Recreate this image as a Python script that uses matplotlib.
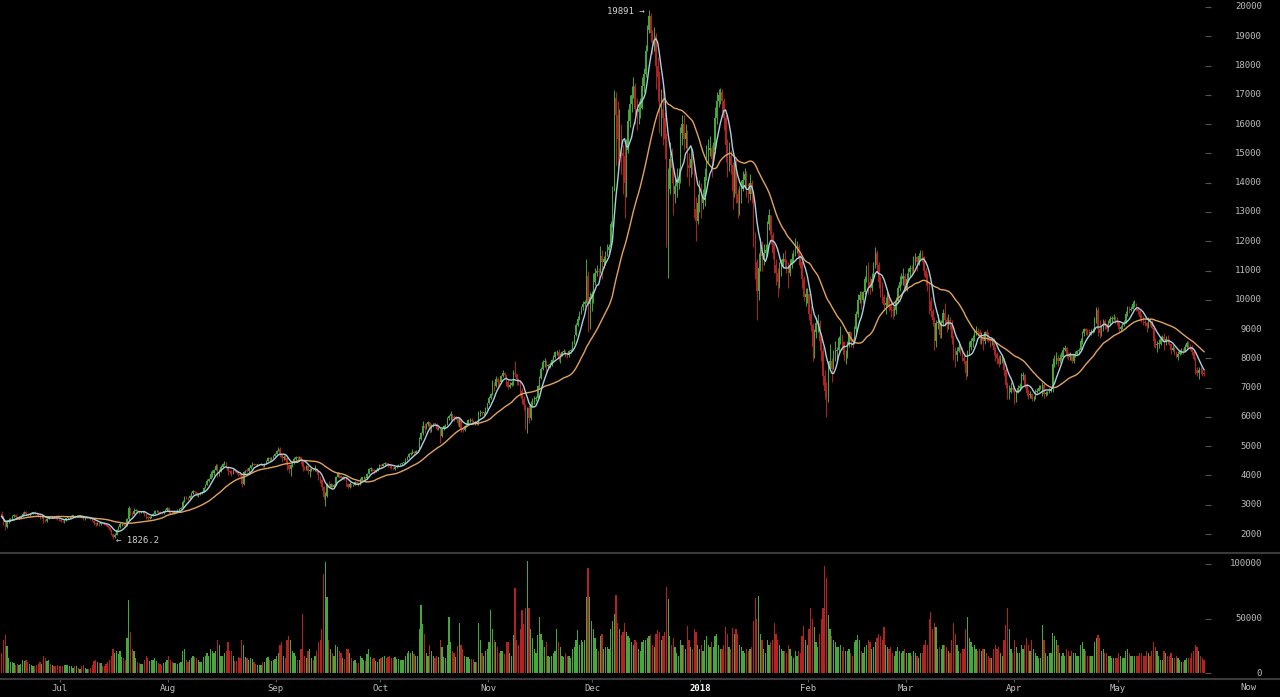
import datetime as dt
import numpy as np
import pandas as pd
import matplotlib
matplotlib.use("Agg")
import matplotlib.pyplot as plt
import matplotlib.dates as mdates
from matplotlib.transforms import offset_copy, blended_transform_factory
from matplotlib.lines import Line2D

# 12h candles, Bitfinex BTC/USD, from 2017-06-14 00:00 UTC
start = dt.datetime(2017, 6, 14)
first_open = 2680

closes = [
    # Jun
    2600, 2440, 2250, 2430, 2480, 2500, 2600, 2650, 2590, 2540, 2580, 2610, 2700, 2760, 2690, 2660, 2700, 2720,
    2740, 2730, 2680, 2620, 2570, 2600, 2480, 2460, 2520, 2600, 2570, 2580, 2560, 2550, 2500, 2490,
    # Jul
    2440, 2430, 2470, 2530, 2570, 2590, 2620, 2630, 2600, 2620, 2610, 2620, 2560, 2520, 2550, 2570, 2550, 2510,
    2460, 2380, 2330, 2360, 2340, 2400, 2380, 2360, 2300, 2230, 2130, 1990, 1900, 1960, 2150, 2230, 2330, 2340,
    2300, 2290, 2500, 2880, 2700, 2680, 2800, 2830, 2770, 2750, 2760, 2770, 2670, 2590, 2540, 2560, 2630, 2690,
    2770, 2800, 2740, 2730, 2710, 2770, 2820, 2880,
    # Aug
    2760, 2740, 2710, 2720, 2780, 2820, 2860, 2900, 3100, 3260, 3230, 3220, 3300, 3390, 3460, 3420, 3350, 3350,
    3400, 3430, 3570, 3670, 3800, 3880, 4050, 4070, 4200, 4330, 4100, 4180, 4300, 4390, 4450, 4290, 4150, 4120,
    4080, 4190, 4150, 4090, 4020, 4010, 3700, 4110, 4160, 4150, 4250, 4350, 4400, 4370, 4360, 4360, 4380, 4390,
    4330, 4390, 4500, 4590, 4560, 4590, 4680, 4740,
    # Sep
    4850, 4920, 4700, 4580, 4620, 4600, 4350, 4230, 4350, 4420, 4570, 4630, 4600, 4620, 4480, 4280, 4260, 4310,
    4150, 4190, 4230, 4190, 4230, 4120, 3950, 3850, 3600, 3250, 3300, 3660, 3620, 3700, 3610, 3690, 3950, 4100,
    3980, 3900, 3950, 3900, 3700, 3620, 3700, 3640, 3690, 3790, 3740, 3680, 3860, 3930, 3940, 3900, 4060, 4220,
    4230, 4200, 4140, 4170, 4240, 4360,
    # Oct
    4330, 4400, 4420, 4410, 4350, 4310, 4270, 4220, 4290, 4330, 4370, 4380, 4420, 4450, 4550, 4620, 4720, 4780,
    4800, 4780, 4820, 4840, 5250, 5450, 5700, 5630, 5750, 5830, 5600, 5700, 5760, 5750, 5600, 5600, 5350, 5580,
    5680, 5720, 5950, 6020, 6100, 6010, 5950, 6000, 5800, 5920, 5600, 5550, 5700, 5740, 5880, 5900, 5850, 5780,
    5800, 5760, 6100, 6170, 6130, 6140, 6300, 6460,
    # Nov
    6650, 6770, 7100, 7050, 7300, 7200, 7180, 7400, 7500, 7420, 7200, 7020, 7100, 7150, 7500, 7460, 7300, 7150,
    6900, 6600, 6400, 6100, 6300, 5950, 6450, 6570, 6600, 6640, 7050, 7330, 7650, 7880, 7900, 7730, 7760, 7800,
    7950, 8050, 8200, 8230, 8000, 8100, 8200, 8260, 8150, 8100, 8250, 8250, 8550, 8780, 9150, 9330, 9550, 9750,
    9850, 9920, 10800, 9850, 10100, 10200,
    # Dec
    10600, 10900, 11000, 10950, 11500, 11300, 11400, 11600, 11700, 11800, 12600, 13700, 16900, 16300, 15500, 15900,
    15000, 14900, 14000, 15100, 16100, 16700, 17000, 17300, 16500, 16400, 16500, 16550, 17300, 17700, 18500, 19200,
    19700, 19100, 18900, 19000, 18000, 17600, 16500, 16500, 16200, 15500, 13500, 13800, 14800, 14500, 13600, 13900,
    14000, 14100, 15700, 16000, 15500, 15700, 14600, 14500, 14800, 14600, 13100, 12700, 13300, 13900,
    # Jan
    13300, 13500, 14200, 14900, 15100, 15200, 14800, 15100, 16200, 16800, 17000, 17100, 16800, 16200, 15300, 14900,
    14900, 14600, 13700, 14700, 13600, 13300, 13500, 13800, 14100, 14300, 13800, 13600, 14000, 13600, 12200, 11300,
    10300, 11100, 11700, 11500, 11600, 11700, 12600, 12900, 12200, 11600, 11200, 10900, 10600, 11000, 11200, 11400,
    11300, 11200, 10900, 11200, 11400, 11500, 11800, 11800, 11400, 11300, 10700, 10100, 10200, 10200,
    # Feb
    9500, 9150, 8400, 8900, 9200, 9200, 8600, 8250, 7400, 6900, 6700, 7700, 7900, 7650, 8100, 8250, 8300, 8700,
    8800, 8550, 8100, 8100, 8500, 8900, 8600, 8550, 9000, 9500, 10000, 10150, 10000, 10250, 10700, 11100, 10600, 10400,
    10700, 11150, 11600, 11200, 10600, 10450, 10100, 9830, 9900, 10150, 9800, 9650, 9600, 9650, 9950, 10400,
    10600, 10700, 10800, 10350,
    # Mar
    10700, 10950, 11100, 11050, 11400, 11450, 11300, 11500, 11600, 11450, 11000, 10750, 10500, 9950, 9600, 9300,
    8600, 9200, 9200, 8800, 9200, 9550, 9300, 9150, 9300, 9150, 8700, 8200, 8100, 8250, 8400, 8300, 8000, 7900,
    7500, 8200, 8400, 8600, 8700, 8900, 8950, 8900, 8700, 8700, 8600, 8900, 8800, 8650, 8600, 8600, 8300, 8150,
    8000, 7800, 7950, 7950, 7600, 7100, 6800, 6850, 7000, 6930,
    # Apr
    6600, 6820, 7000, 7050, 7400, 7420, 7100, 6800, 6750, 6780, 6600, 6620, 6850, 6900, 7000, 7020, 7100, 6770,
    6800, 6840, 6900, 6940, 7800, 7900, 8000, 7900, 8000, 8050, 8300, 8360, 8100, 8060, 8100, 7900, 8100, 8160,
    8250, 8290, 8600, 8850, 9000, 8920, 8900, 8810, 8900, 8940, 9300, 9650, 9000, 8870, 9000, 9280, 9100, 8990,
    9200, 9350, 9350, 9390, 9300, 9240,
    # May
    9000, 9070, 9150, 9220, 9500, 9740, 9650, 9700, 9850, 9860, 9700, 9620, 9400, 9370, 9250, 9190, 9100, 9330,
    9250, 9040, 8600, 8440, 8500, 8500, 8650, 8720, 8550, 8670, 8600, 8480, 8300, 8340, 8200, 8060, 8150, 8240,
    8250, 8240, 8400, 8540, 8450, 8400, 8200, 7990, 7600, 7510, 7600, 7590, 7500, 7480,
]

highs = [
    # Jun
    2790, 2640, 2480, 2480, 2530, 2560, 2650, 2690, 2680, 2610, 2610, 2640, 2740, 2790, 2790, 2720, 2730, 2750,
    2760, 2770, 2740, 2690, 2640, 2640, 2610, 2510, 2540, 2630, 2620, 2610, 2600, 2580, 2560, 2530,
    # Jul
    2510, 2470, 2490, 2560, 2590, 2620, 2650, 2660, 2640, 2650, 2640, 2640, 2630, 2580, 2570, 2590, 2580, 2560,
    2520, 2470, 2400, 2420, 2380, 2420, 2420, 2400, 2370, 2310, 2240, 2140, 2000, 2050, 2180, 2280, 2400, 2390,
    2380, 2340, 2560, 2950, 2900, 2760, 2880, 2870, 2840, 2790, 2790, 2800, 2780, 2680, 2620, 2600, 2660, 2720,
    2830, 2830, 2810, 2770, 2750, 2790, 2860, 2920,
    # Aug
    2920, 2790, 2770, 2760, 2800, 2840, 2890, 2920, 3150, 3300, 3290, 3260, 3320, 3420, 3490, 3480, 3440, 3390,
    3430, 3460, 3600, 3720, 3870, 3920, 4150, 4190, 4230, 4380, 4390, 4220, 4340, 4420, 4480, 4470, 4320, 4200,
    4170, 4210, 4200, 4160, 4110, 4060, 4030, 4140, 4190, 4250, 4280, 4370, 4450, 4420, 4390, 4390, 4400, 4420,
    4400, 4410, 4530, 4640, 4630, 4620, 4710, 4780,
    # Sep
    4880, 4980, 4960, 4720, 4700, 4700, 4620, 4380, 4400, 4480, 4620, 4680, 4670, 4680, 4640, 4500, 4320, 4340,
    4310, 4240, 4270, 4260, 4350, 4260, 4140, 3980, 3880, 3630, 3430, 3750, 3800, 3740, 3720, 3720, 3980, 4130,
    4110, 4010, 3990, 3970, 3920, 3730, 3760, 3720, 3720, 3820, 3800, 3760, 3900, 3960, 3990, 3960, 4090, 4250,
    4280, 4260, 4230, 4210, 4270, 4390,
    # Oct
    4380, 4420, 4470, 4450, 4430, 4380, 4330, 4290, 4320, 4360, 4400, 4420, 4440, 4470, 4580, 4650, 4760, 4810,
    4900, 4840, 4860, 4880, 5300, 5490, 5860, 5780, 5800, 5860, 5840, 5760, 5800, 5800, 5780, 5650, 5610, 5620,
    5720, 5760, 6000, 6070, 6200, 6110, 6050, 6040, 6030, 5950, 5930, 5650, 5730, 5800, 5930, 5950, 5950, 5880,
    5850, 5830, 6200, 6250, 6200, 6180, 6350, 6480,
    # Nov
    6700, 6800, 7250, 7200, 7380, 7350, 7260, 7430, 7590, 7530, 7440, 7250, 7200, 7230, 7600, 7900, 7480, 7320,
    7250, 7000, 6700, 6450, 6350, 6400, 6550, 6650, 6700, 6720, 7100, 7380, 7700, 7950, 8000, 7950, 7820, 7860,
    7990, 8100, 8250, 8280, 8330, 8170, 8250, 8320, 8280, 8200, 8300, 8320, 8600, 8800, 9200, 9450, 9600, 9800,
    9950, 10000, 11400, 11000, 10250, 10300,
    # Dec
    10900, 11100, 11200, 11100, 11850, 11700, 11500, 11650, 11900, 11900, 12700, 13900, 17160, 17100, 16800, 16500,
    16000, 15300, 15300, 15500, 16500, 17000, 17300, 17600, 17400, 16900, 16800, 16900, 17600, 17900, 18700, 19400,
    19891, 19800, 19200, 19300, 19100, 18300, 17800, 17200, 17300, 16400, 15700, 14500, 15400, 15200, 14600, 14200,
    14500, 14500, 15900, 16300, 16300, 16000, 15800, 15000, 15200, 15100, 14700, 13500, 13600, 14100,
    # Jan
    14000, 13800, 14500, 15300, 15500, 15600, 15300, 15400, 16600, 17100, 17200, 17250, 17200, 16900, 16300, 15500,
    15400, 15100, 14700, 14800, 14800, 13800, 13900, 14100, 14400, 14500, 14400, 14000, 14300, 14100, 13700, 12300,
    11400, 11600, 12100, 12000, 11900, 11900, 12700, 13100, 12900, 12300, 11900, 11400, 11100, 11300, 11400, 11600,
    11700, 11400, 11300, 11400, 11600, 11700, 12100, 12000, 11900, 11500, 11300, 10800, 10400, 10400,
    # Feb
    10200, 9800, 9200, 9000, 9400, 9500, 9300, 8700, 8400, 7600, 7200, 7900, 8500, 8000, 8300, 8600, 8400, 8750,
    9100, 8800, 8600, 8300, 8600, 8950, 8900, 8700, 9100, 9600, 10200, 10300, 10300, 10300, 10800, 11200, 11300, 10800,
    10900, 11300, 11800, 11700, 11300, 10800, 10600, 10200, 10100, 10300, 10200, 9900, 9800, 9800, 10100, 10500,
    10800, 10900, 11100, 10900,
    # Mar
    10900, 11100, 11200, 11200, 11500, 11600, 11500, 11600, 11700, 11700, 11500, 11100, 10900, 10600, 10100, 9700,
    9400, 9300, 9500, 9300, 9300, 9700, 9900, 9400, 9500, 9400, 9300, 8800, 8400, 8400, 8600, 8500, 8400, 8100,
    7950, 8300, 8600, 8700, 8800, 9000, 9100, 9050, 9000, 8900, 8800, 8950, 9000, 8900, 8700, 8700, 8700, 8400,
    8200, 8100, 8100, 8100, 8000, 7700, 7200, 7100, 7200, 7100,
    # Apr
    7000, 6900, 7100, 7150, 7500, 7520, 7450, 7150, 6950, 6900, 6800, 6700, 6950, 7000, 7100, 7100, 7200, 7150,
    6900, 6900, 6980, 7000, 8000, 8100, 8200, 8100, 8150, 8200, 8400, 8450, 8400, 8200, 8200, 8150, 8150, 8250,
    8300, 8350, 8700, 8950, 9050, 9050, 9000, 9000, 9000, 9050, 9400, 9750, 9750, 9300, 9100, 9350, 9350, 9200,
    9300, 9450, 9450, 9500, 9450, 9400,
    # May
    9250, 9150, 9200, 9300, 9600, 9800, 9800, 9800, 9950, 9990, 9900, 9750, 9650, 9500, 9450, 9350, 9250, 9400,
    9400, 9300, 9050, 8700, 8600, 8650, 8750, 8800, 8850, 8750, 8800, 8650, 8500, 8450, 8400, 8250, 8250, 8300,
    8350, 8350, 8500, 8600, 8600, 8500, 8450, 8250, 8050, 7700, 7700, 7700, 7650, 7600,
]

lows = [
    # Jun
    2560, 2300, 2120, 2200, 2380, 2440, 2490, 2570, 2560, 2500, 2520, 2560, 2600, 2690, 2650, 2620, 2630, 2680,
    2690, 2700, 2640, 2590, 2520, 2540, 2380, 2400, 2420, 2500, 2530, 2540, 2530, 2520, 2480, 2460,
    # Jul
    2410, 2400, 2380, 2450, 2520, 2550, 2580, 2600, 2560, 2580, 2590, 2590, 2540, 2490, 2490, 2530, 2530, 2490,
    2430, 2320, 2280, 2300, 2280, 2320, 2350, 2320, 2260, 2200, 2100, 1960, 1826.2, 1880, 1950, 2120, 2200, 2280,
    2260, 2250, 2270, 2480, 2640, 2620, 2670, 2770, 2720, 2700, 2720, 2730, 2620, 2520, 2470, 2510, 2540, 2610,
    2680, 2740, 2710, 2700, 2680, 2690, 2750, 2800,
    # Aug
    2700, 2690, 2670, 2670, 2710, 2760, 2800, 2840, 2890, 3080, 3180, 3170, 3200, 3280, 3370, 3350, 3300, 3280,
    3340, 3380, 3420, 3560, 3660, 3780, 3870, 3960, 4030, 4180, 3950, 3990, 4130, 4280, 4350, 4250, 4000, 4050,
    3970, 4060, 4110, 4060, 3980, 3970, 3600, 3690, 4080, 4120, 4130, 4230, 4330, 4340, 4320, 4330, 4340, 4360,
    4280, 4300, 4380, 4480, 4500, 4530, 4580, 4660,
    # Sep
    4730, 4820, 4620, 4450, 4520, 4540, 4200, 4100, 3970, 4300, 4400, 4540, 4540, 4570, 4400, 4140, 4180, 4200,
    4060, 3960, 4150, 4140, 4150, 4050, 3850, 3750, 3500, 3200, 2970, 3270, 3560, 3600, 3560, 3580, 3680, 3930,
    3900, 3850, 3880, 3860, 3650, 3580, 3560, 3600, 3630, 3680, 3700, 3650, 3670, 3850, 3890, 3870, 3890, 4040,
    4160, 4150, 4050, 4110, 4150, 4230,
    # Oct
    4300, 4310, 4370, 4370, 4300, 4250, 4220, 4190, 4200, 4270, 4310, 4340, 4360, 4400, 4440, 4530, 4600, 4690,
    4730, 4700, 4750, 4790, 4830, 5200, 5380, 5450, 5600, 5700, 5450, 5500, 5650, 5700, 5560, 5540, 5120, 5320,
    5560, 5650, 5710, 5900, 5900, 5910, 5860, 5920, 5700, 5640, 5480, 5470, 5520, 5650, 5720, 5830, 5800, 5720,
    5720, 5720, 5740, 6040, 6050, 6050, 6130, 6280,
    # Nov
    6450, 6600, 6760, 6900, 7030, 7050, 7080, 7150, 7350, 7340, 7050, 6960, 7000, 7050, 7100, 7350, 7100, 7080,
    6700, 6450, 6250, 5600, 5450, 5800, 5900, 6350, 6450, 6540, 6630, 7000, 7300, 7600, 7700, 7550, 7620, 7680,
    7750, 7900, 8020, 8100, 7900, 7850, 8080, 8180, 8050, 8000, 8050, 8180, 8240, 8500, 8770, 9100, 9300, 9500,
    9650, 9800, 9900, 8900, 9000, 9600,
    # Dec
    9900, 10500, 10800, 10700, 10900, 10700, 11100, 11200, 11500, 11600, 11800, 12500, 13700, 14600, 14500, 14900,
    14300, 13600, 12800, 13500, 15000, 15900, 16400, 16900, 16000, 15800, 16000, 16200, 16500, 17100, 17600, 18500,
    19100, 18800, 18400, 18500, 17200, 16800, 15700, 15600, 15300, 14800, 11800, 10750, 13600, 14000, 12900, 13300,
    13500, 13800, 14000, 15300, 15100, 15200, 14200, 13900, 14200, 14300, 12800, 12000, 12600, 13000,
    # Jan
    12800, 13100, 13200, 14100, 14700, 14900, 14200, 14600, 15000, 16000, 16600, 16700, 16400, 15800, 14700, 14200,
    14400, 14300, 13100, 13500, 13300, 12800, 12900, 13300, 13700, 13900, 13500, 13300, 13400, 13300, 11800, 10700,
    9300, 10000, 11000, 11000, 11200, 11400, 11600, 12400, 11900, 11400, 10900, 10500, 10100, 10400, 10800, 11100,
    11100, 10900, 10400, 10800, 11100, 11300, 11500, 11600, 11200, 11100, 10400, 9950, 9800, 9900,
    # Feb
    9300, 8950, 7900, 8000, 8700, 8900, 8300, 7900, 7100, 6600, 6000, 6500, 7600, 7200, 7700, 7900, 7900, 8200,
    8500, 8300, 7900, 7800, 8000, 8400, 8400, 8350, 8500, 8900, 9400, 9900, 9700, 9900, 10200, 10600, 10200, 10200,
    10300, 10600, 11100, 10900, 10400, 10100, 9900, 9650, 9500, 9800, 9600, 9400, 9350, 9450, 9500, 9900,
    10300, 10500, 10500, 10300,
    # Mar
    10300, 10600, 10800, 10900, 11000, 11200, 11000, 11200, 11400, 11300, 10800, 10500, 10300, 9500, 9400, 9100,
    8300, 8400, 9000, 8700, 8700, 9100, 9100, 8900, 9000, 9000, 8500, 7950, 7700, 7900, 8200, 8100, 7900, 7800,
    7300, 7400, 8100, 8300, 8400, 8600, 8800, 8750, 8500, 8500, 8300, 8500, 8600, 8550, 8400, 8450, 8100, 7900,
    7800, 7700, 7800, 7850, 7400, 7000, 6600, 6600, 6800, 6850,
    # Apr
    6450, 6500, 6800, 6900, 7000, 7250, 7000, 6700, 6600, 6650, 6550, 6550, 6600, 6800, 6880, 6950, 6700, 6650,
    6700, 6750, 6800, 6850, 6850, 7700, 7800, 7750, 7850, 7950, 8050, 8250, 8000, 7950, 7950, 7850, 7850, 8050,
    8100, 8150, 8250, 8500, 8750, 8800, 8800, 8750, 8800, 8850, 8900, 9200, 8750, 8700, 8750, 8950, 9000, 8900,
    8950, 9150, 9250, 9300, 9200, 9150,
    # May
    8900, 8950, 9000, 9100, 9200, 9450, 9550, 9600, 9700, 9750, 9600, 9500, 9300, 9250, 9150, 9100, 8900, 9050,
    9100, 9000, 8400, 8350, 8200, 8350, 8450, 8600, 8300, 8450, 8500, 8450, 8150, 8250, 8100, 8000, 7950, 8100,
    8150, 8150, 8200, 8350, 8350, 8300, 8100, 7950, 7450, 7400, 7300, 7450, 7400, 7380,
]

# volume per 12h candle, thousands of BTC
vol_k = [
    # Jun
    18, 30, 35, 25, 14, 10, 10, 9, 7, 8, 7, 8, 12, 11, 12, 10, 8, 7, 6, 6, 7, 8, 10, 8, 16, 14, 11, 12, 8, 7, 6, 6, 7, 6,
    # Jul
    6, 6, 7, 7, 7, 6, 6, 5, 6, 6, 5, 4, 6, 7, 5, 4, 4, 5, 7, 11, 12, 10, 9, 9, 6, 6, 8, 10, 12, 16, 22, 18,
    20, 17, 20, 15, 14, 12, 32, 67, 38, 22, 20, 14, 10, 9, 8, 8, 12, 16, 14, 11, 12, 12, 14, 11, 9, 8, 7, 9, 10, 12,
    # Aug
    16, 12, 10, 9, 9, 8, 9, 10, 20, 22, 12, 10, 12, 14, 16, 15, 14, 12, 10, 10, 15, 16, 18, 16, 22, 20, 18, 20,
    30, 26, 16, 16, 18, 20, 28, 20, 20, 16, 11, 11, 15, 14, 30, 26, 15, 14, 12, 14, 13, 10, 8, 7, 7, 7, 10, 10,
    14, 15, 12, 11, 12, 13,
    # Sep
    16, 18, 26, 28, 16, 14, 30, 34, 30, 20, 18, 16, 12, 12, 22, 54, 16, 14, 20, 22, 14, 12, 16, 20, 28, 30,
    40, 91, 102, 70, 30, 22, 18, 16, 26, 24, 20, 18, 14, 13, 22, 22, 18, 14, 11, 12, 9, 9, 16, 14, 12, 11,
    17, 22, 15, 13, 14, 11, 10, 13,
    # Oct
    14, 15, 16, 14, 15, 16, 14, 14, 15, 13, 13, 12, 12, 12, 16, 18, 20, 18, 20, 17, 16, 16, 40, 62, 45, 36,
    18, 16, 26, 20, 16, 14, 16, 15, 30, 24, 15, 14, 26, 51, 28, 20, 18, 15, 25, 46, 26, 22, 16, 15, 15, 13,
    13, 13, 10, 10, 46, 30, 18, 16, 20, 22,
    # Nov
    28, 58, 40, 30, 28, 24, 18, 20, 20, 17, 28, 28, 18, 16, 35, 78, 30, 26, 40, 58, 45, 60, 103, 60, 40, 32,
    22, 18, 35, 51, 36, 30, 24, 28, 16, 15, 16, 18, 20, 40, 28, 24, 16, 15, 18, 16, 16, 14, 22, 24, 30, 39,
    26, 30, 28, 30, 70, 96, 70, 48,
    # Dec
    40, 32, 22, 20, 34, 36, 22, 24, 24, 22, 40, 48, 54, 72, 46, 40, 35, 38, 46, 38, 34, 32, 28, 26, 30, 28,
    22, 20, 28, 30, 30, 32, 34, 35, 26, 24, 36, 39, 38, 30, 34, 38, 79, 68, 34, 26, 32, 24, 18, 16, 30, 26,
    26, 22, 43, 30, 24, 22, 40, 38, 26, 22,
    # Jan
    26, 20, 30, 34, 26, 24, 28, 24, 34, 36, 26, 22, 22, 26, 42, 36, 24, 22, 41, 36, 40, 36, 26, 24, 20, 18,
    22, 20, 22, 24, 48, 69, 50, 71, 36, 30, 22, 18, 30, 26, 28, 30, 46, 36, 30, 26, 22, 20, 20, 18, 26, 22,
    16, 14, 20, 16, 20, 18, 34, 43, 30, 26,
    # Feb
    40, 60, 50, 42, 28, 24, 36, 50, 60, 98, 87, 53, 40, 34, 30, 28, 24, 24, 26, 20, 24, 20, 20, 22, 18, 16,
    28, 30, 35, 30, 20, 18, 24, 26, 30, 28, 22, 24, 28, 32, 36, 34, 30, 42, 26, 24, 22, 24, 18, 16, 20, 24,
    20, 18, 20, 22,
    # Mar
    18, 18, 18, 16, 20, 18, 16, 14, 18, 18, 26, 30, 26, 50, 56, 40, 46, 42, 22, 24, 22, 26, 26, 24, 20, 18,
    30, 46, 36, 26, 20, 18, 22, 22, 40, 51, 32, 28, 24, 26, 22, 20, 22, 20, 22, 22, 18, 16, 14, 14, 22, 26,
    22, 24, 18, 16, 30, 44, 60, 40, 22, 18,
    # Apr
    30, 24, 18, 18, 26, 22, 26, 32, 26, 20, 30, 22, 18, 16, 14, 14, 44, 30, 18, 16, 18, 18, 37, 34, 30, 26,
    18, 16, 18, 16, 22, 20, 16, 20, 18, 18, 16, 16, 26, 28, 22, 20, 16, 16, 16, 16, 28, 32, 35, 32, 20, 22,
    18, 18, 16, 16, 14, 14, 14, 14,
    # May
    18, 16, 14, 14, 20, 22, 18, 16, 16, 16, 16, 16, 18, 18, 16, 16, 20, 18, 16, 20, 28, 24, 20, 16, 12, 12,
    20, 18, 16, 16, 18, 14, 14, 16, 14, 12, 10, 10, 12, 14, 14, 14, 18, 20, 26, 24, 20, 16, 14, 12,
]

month_labels = ["Jul", "Aug", "Sep", "Oct", "Nov", "Dec", "2018", "Feb", "Mar", "Apr", "May"]
price_ticks = list(range(2000, 20001, 1000))
vol_ticks = [0, 50000, 100000]

assert len(closes) == len(highs) == len(lows) == len(vol_k), (len(closes), len(highs), len(lows), len(vol_k))

# ---- prepare
close = np.array(closes, dtype=float)
opn = np.concatenate([[first_open], close[:-1]])
hi = np.maximum.reduce([np.array(highs, float), opn, close])
lo = np.minimum.reduce([np.array(lows, float), opn, close])
vol = np.array(vol_k, float) * 1000
n = len(close)
t = mdates.date2num([start + dt.timedelta(hours=12 * i + 6) for i in range(n)])
up = close >= opn

# moving averages of the 12h closes
ma_fast = pd.Series(close).rolling(7, min_periods=1).mean().values
ma_slow = pd.Series(close).rolling(30, min_periods=1).mean().values

GREEN = "#44a83a"
RED = "#b42222"
TXT = "#bdbdbd"
MONO = "DejaVu Sans Mono"

W, H = 1280, 697
px_day = 3.48
x0 = mdates.date2num(start) - 0.84 / px_day
x1 = x0 + 1208 / px_day

fig = plt.figure(figsize=(W / 100, H / 100), dpi=100, facecolor="black")
ax = fig.add_axes([0, 1 - 552 / H, 1208 / W, 552 / H], facecolor="black")
axv = fig.add_axes([0, 1 - 679 / H, 1208 / W, 124 / H], facecolor="black")

body_w = 0.36
for m, col in ((up, GREEN), (~up, RED)):
    ax.vlines(t[m], lo[m], hi[m], color=col, lw=0.7)
    bottom = np.minimum(opn[m], close[m])
    height = np.maximum(np.abs(close[m] - opn[m]), 25)
    ax.bar(t[m], height, bottom=bottom, width=body_w, color=col, linewidth=0)
    axv.bar(t[m], vol[m], width=body_w, color=col, linewidth=0)

ax.plot(t, ma_slow, color="#e1a35e", lw=1.0)
ax.plot(t, ma_fast, color="#a9d0e4", lw=1.0)

ax.set_xlim(x0, x1)
axv.set_xlim(x0, x1)
ax.set_ylim(2000 - 18 * 1000 / 29.28, 20000 + 7 * 1000 / 29.28)
axv.set_ylim(-6 / 109 * 100000, 100000 + 9 / 109 * 100000)

for a in (ax, axv):
    for s in a.spines.values():
        s.set_visible(False)
    a.tick_params(axis="y", left=False, right=True, labelleft=False, labelright=False,
                  direction="inout", length=4.5, width=0.8, color="#555555")

ax.set_yticks(price_ticks)
axv.set_yticks(vol_ticks)
ax.set_xticks([])

tr = blended_transform_factory(ax.transAxes, ax.transData)
for p in price_ticks:
    ax.text(1262 / 1208, p, str(p), transform=tr, ha="right", va="center",
            fontsize=6.5, family=MONO, color=TXT, clip_on=False)
trv = blended_transform_factory(axv.transAxes, axv.transData)
for v in vol_ticks:
    axv.text(1262 / 1208, v, str(v), transform=trv, ha="right", va="center",
             fontsize=6.5, family=MONO, color=TXT, clip_on=False)

# month ticks
month_starts = [dt.datetime(2017, m, 1) for m in range(7, 13)] + [dt.datetime(2018, m, 1) for m in range(1, 6)]
axv.set_xticks(mdates.date2num(month_starts))
axv.set_xticklabels(month_labels, fontsize=6.5, family=MONO, color=TXT)
axv.tick_params(axis="x", direction="out", length=2, width=0.8, color="#555555", pad=1.5)
for lab in axv.get_xticklabels():
    if lab.get_text() == "2018":
        lab.set_color("white")
        lab.set_fontweight("bold")
fig.text(1248 / W, 1 - 688 / H, "Now", ha="center", va="center", fontsize=6.5, family=MONO, color=TXT)

# separators
for yy in (553, 679):
    fig.add_artist(Line2D([0, 1], [1 - yy / H, 1 - yy / H], transform=fig.transFigure,
                          color="#3a3a3a", lw=1.5))

# extreme labels
i_hi = int(np.argmax(hi))
i_lo = int(np.argmin(lo))
ax.text(t[i_hi], hi[i_hi], "19891 \u2192", ha="right", va="center", fontsize=6.5, family=MONO,
        color="#d0d0d0", transform=offset_copy(ax.transData, fig=fig, x=-3, y=-1, units="points"))
ax.text(t[i_lo], lo[i_lo], "\u2190 1826.2", ha="left", va="center", fontsize=6.5, family=MONO,
        color="#d0d0d0", transform=offset_copy(ax.transData, fig=fig, x=2, y=-1, units="points"))

fig.savefig("out.png", dpi=100, facecolor="black")
